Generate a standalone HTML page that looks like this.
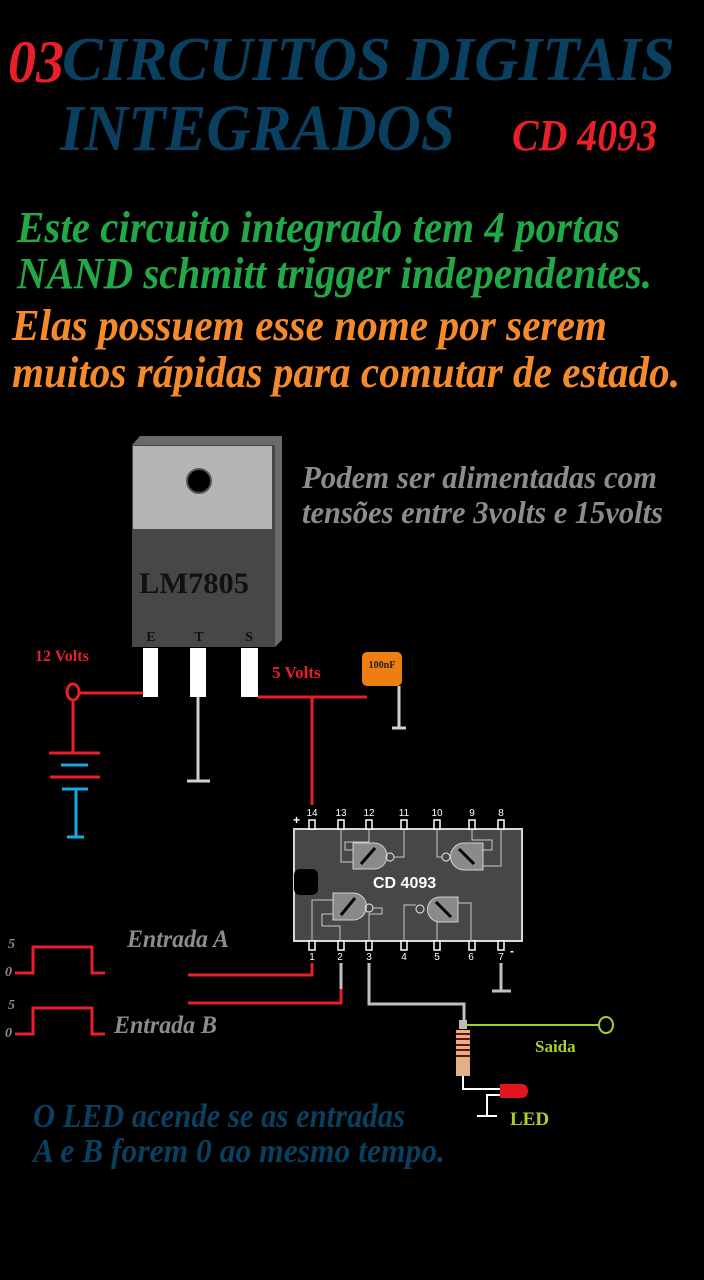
<!DOCTYPE html>
<html><head><meta charset="utf-8"><style>
html,body{margin:0;padding:0;background:#000;}
svg{display:block;}
.t{font-family:"Liberation Serif",serif;font-weight:bold;font-style:italic;}
.s{font-family:"Liberation Sans",sans-serif;}
</style></head><body>
<svg width="704" height="1280" viewBox="0 0 704 1280" xmlns="http://www.w3.org/2000/svg">
<rect width="704" height="1280" fill="#000"/>
<!-- titles -->
<text class="t" x="8" y="82" font-size="60" fill="#e8202a" textLength="56" lengthAdjust="spacingAndGlyphs">03</text>
<text class="t" x="62" y="80" font-size="62" fill="#0a3f5f" textLength="613" lengthAdjust="spacingAndGlyphs">CIRCUITOS DIGITAIS</text>
<text class="t" x="60" y="150" font-size="66" fill="#0a3f5f" textLength="395" lengthAdjust="spacingAndGlyphs">INTEGRADOS</text>
<text class="t" x="512" y="150" font-size="44" fill="#e8202a" textLength="145" lengthAdjust="spacingAndGlyphs">CD 4093</text>
<text class="t" x="17" y="242" font-size="44" fill="#22a846" textLength="603" lengthAdjust="spacingAndGlyphs">Este circuito integrado tem 4 portas</text>
<text class="t" x="17" y="288" font-size="44" fill="#22a846" textLength="635" lengthAdjust="spacingAndGlyphs">NAND schmitt trigger independentes.</text>
<text class="t" x="12" y="340" font-size="44" fill="#f58a2c" textLength="595" lengthAdjust="spacingAndGlyphs">Elas possuem esse nome por serem</text>
<text class="t" x="12" y="387" font-size="44" fill="#f58a2c" textLength="668" lengthAdjust="spacingAndGlyphs">muitos rápidas para comutar de estado.</text>
<text class="t" x="302" y="488" font-size="32" fill="#8c8c8c" textLength="355" lengthAdjust="spacingAndGlyphs">Podem ser alimentadas com</text>
<text class="t" x="302" y="523" font-size="32" fill="#8c8c8c" textLength="361" lengthAdjust="spacingAndGlyphs">tensões entre 3volts e 15volts</text>

<!-- regulator -->
<polygon points="132,445 140,436 282,436 282,640 275,647 275,445" fill="#6a6a6a"/>
<rect x="132" y="445" width="143" height="202" fill="#474747"/>
<rect x="133" y="446" width="139" height="83" fill="#b4b4b4"/>
<circle cx="199" cy="481" r="12" fill="#000" stroke="#555" stroke-width="2"/>
<text x="139" y="593" font-family="Liberation Serif,serif" font-weight="bold" font-size="30" fill="#111" textLength="110" lengthAdjust="spacingAndGlyphs">LM7805</text>
<g font-family="Liberation Serif,serif" font-weight="bold" font-size="14" fill="#111" text-anchor="middle">
<text x="151" y="641">E</text><text x="199" y="641">T</text><text x="249" y="641">S</text></g>
<rect x="143" y="648" width="15" height="49" fill="#fff"/>
<rect x="190" y="648" width="16" height="49" fill="#fff"/>
<rect x="241" y="648" width="17" height="49" fill="#fff"/>
<text x="35" y="661" font-family="Liberation Serif,serif" font-weight="bold" font-size="16" fill="#e8202a">12 Volts</text>
<text x="272" y="678" font-family="Liberation Serif,serif" font-weight="bold" font-size="17" fill="#e8202a">5 Volts</text>
<g stroke="#e8202a" stroke-width="3" fill="none">
<ellipse cx="73" cy="692" rx="6" ry="8"/>
<line x1="80" y1="693" x2="143" y2="693"/>
<line x1="73" y1="700" x2="73" y2="753"/>
<line x1="49" y1="753" x2="100" y2="753"/>
<line x1="50" y1="777" x2="100" y2="777"/>
<line x1="258" y1="697" x2="367" y2="697"/>
<line x1="312" y1="697" x2="312" y2="805"/>
</g>
<g stroke="#19a8e0" stroke-width="3">
<line x1="61" y1="765" x2="88" y2="765"/>
<line x1="62" y1="789" x2="88" y2="789"/>
<line x1="76" y1="789" x2="76" y2="837"/>
<line x1="67" y1="837" x2="84" y2="837"/>
</g>
<g stroke="#d0d0d0" stroke-width="3">
<line x1="198" y1="697" x2="198" y2="781"/>
<line x1="187" y1="781" x2="210" y2="781"/>
<line x1="399" y1="686" x2="399" y2="728"/>
<line x1="392" y1="728" x2="406" y2="728"/>
</g>
<rect x="362" y="652" width="40" height="34" rx="5" fill="#f07d12"/>
<text x="382" y="668" font-family="Liberation Serif,serif" font-weight="bold" font-size="10" fill="#222" text-anchor="middle">100nF</text>

<!-- IC -->
<rect x="294" y="829" width="228" height="112" fill="#474747" stroke="#d8d8d8" stroke-width="2"/>
<rect x="294" y="869" width="24" height="26" rx="6" fill="#000"/>
<text x="373" y="888" class="s" font-weight="bold" font-size="16" fill="#fff">CD 4093</text>
<g fill="#000" stroke="#fff" stroke-width="1.5">
<rect x="309" y="820" width="6" height="9"/><rect x="338" y="820" width="6" height="9"/><rect x="366" y="820" width="6" height="9"/><rect x="401" y="820" width="6" height="9"/><rect x="434" y="820" width="6" height="9"/><rect x="469" y="820" width="6" height="9"/><rect x="498" y="820" width="6" height="9"/>
<rect x="309" y="941" width="6" height="9"/><rect x="338" y="941" width="6" height="9"/><rect x="366" y="941" width="6" height="9"/><rect x="401" y="941" width="6" height="9"/><rect x="434" y="941" width="6" height="9"/><rect x="469" y="941" width="6" height="9"/><rect x="498" y="941" width="6" height="9"/>
</g>
<g class="s" font-size="10" fill="#fff" text-anchor="middle">
<text x="312" y="816">14</text><text x="341" y="816">13</text><text x="369" y="816">12</text><text x="404" y="816">11</text><text x="437" y="816">10</text><text x="472" y="816">9</text><text x="501" y="816">8</text>
<text x="312" y="960">1</text><text x="340" y="960">2</text><text x="369" y="960">3</text><text x="404" y="960">4</text><text x="437" y="960">5</text><text x="471" y="960">6</text><text x="501" y="960">7</text>
</g>
<text x="293" y="824" class="s" font-weight="bold" font-size="12" fill="#fff">+</text>
<text x="510" y="955" class="s" font-weight="bold" font-size="12" fill="#fff">-</text>
<g stroke="#c8c8c8" stroke-width="1" fill="none">
<polyline points="341,829 341,862 353,862"/><polyline points="369,829 369,842 345,842 345,850 353,850"/>
<polyline points="404,829 404,857 394,857"/>
<polyline points="437,829 437,857 442,857"/>
<polyline points="472,829 472,840 492,840 492,850 483,850"/><polyline points="501,829 501,866 483,866"/>
<polyline points="312,941 312,900 333,900"/><polyline points="340,941 340,926 322,926 322,914 333,914"/>
<polyline points="369,941 369,914 382,914 382,908 373,908"/>
<polyline points="404,941 404,905 416,905"/>
<polyline points="437,941 437,922 458,922"/><polyline points="471,941 471,903 458,903"/>
</g>
<g fill="#8a8a8a" stroke="#cfcfcf" stroke-width="1">
<path d="M353,843 H374 A13,13 0 0 1 374,869 H353 Z"/>
<path d="M483,843 H464 A13,13 0 0 0 464,870 H483 Z"/>
<path d="M333,893 H353 A13,13 0 0 1 353,920 H333 Z"/>
<path d="M458,897 H440 A12.5,12.5 0 0 0 440,922 H458 Z"/>
</g>
<g fill="none" stroke="#cfcfcf" stroke-width="1.2">
<circle cx="390" cy="857" r="4"/><circle cx="446" cy="857" r="4"/><circle cx="369" cy="908" r="4"/><circle cx="420" cy="909" r="4"/>
</g>
<g stroke="#000" stroke-width="3">
<line x1="361" y1="864" x2="375" y2="848"/><line x1="459" y1="849" x2="474" y2="864"/>
<line x1="341" y1="915" x2="355" y2="898"/><line x1="436" y1="902" x2="451" y2="917"/>
</g>

<!-- inputs -->
<g stroke="#e8202a" stroke-width="3" fill="none">
<polyline points="15,973 33,973 33,947 92,947 92,973 105,973"/>
<polyline points="15,1034 33,1034 33,1008 92,1008 92,1034 105,1034"/>
<polyline points="188,975 312,975 312,963"/>
<polyline points="188,1003 341,1003 341,988"/>
</g>
<g stroke="#c0c0c0" stroke-width="3" fill="none">
<line x1="341" y1="963" x2="341" y2="989"/>
<polyline points="369,963 369,1004 464,1004 464,1022"/>
<line x1="501" y1="963" x2="501" y2="991"/>
<line x1="492" y1="991" x2="511" y2="991"/>
</g>
<g font-family="Liberation Serif,serif" font-weight="bold" font-style="italic" font-size="14" fill="#8c8c8c">
<text x="8" y="948">5</text><text x="5" y="976">0</text><text x="8" y="1009">5</text><text x="5" y="1037">0</text></g>
<text class="t" x="127" y="947" font-size="25" fill="#8c8c8c" textLength="102" lengthAdjust="spacingAndGlyphs">Entrada A</text>
<text class="t" x="114" y="1033" font-size="25" fill="#8c8c8c" textLength="103" lengthAdjust="spacingAndGlyphs">Entrada B</text>
<!-- output -->
<line x1="467" y1="1025" x2="599" y2="1025" stroke="#a0d030" stroke-width="2"/>
<ellipse cx="606" cy="1025" rx="7" ry="8" fill="none" stroke="#a0d030" stroke-width="2"/>
<rect x="459" y="1020" width="8" height="9" fill="#bbb"/>
<rect x="456" y="1030" width="14" height="46" fill="#e2b088"/>
<g stroke="#6a1010" stroke-width="2"><line x1="456" y1="1034" x2="470" y2="1034"/><line x1="456" y1="1039" x2="470" y2="1039"/><line x1="456" y1="1045" x2="470" y2="1045"/><line x1="456" y1="1050" x2="470" y2="1050"/><line x1="456" y1="1056" x2="470" y2="1056"/></g>
<polyline points="463,1076 463,1089 503,1089" fill="none" stroke="#fff" stroke-width="2"/>
<polyline points="503,1095 487,1095 487,1116" fill="none" stroke="#fff" stroke-width="2"/>
<line x1="477" y1="1116" x2="497" y2="1116" stroke="#fff" stroke-width="2"/>
<path d="M500,1084 H522 A6,7 0 0 1 522,1098 H500 Z" fill="#e0161e"/>
<text x="535" y="1052" font-family="Liberation Serif,serif" font-weight="bold" font-size="17" fill="#a8d030">Saida</text>
<text x="510" y="1125" font-family="Liberation Serif,serif" font-weight="bold" font-size="19" fill="#a8d030">LED</text>
<text class="t" x="33" y="1127" font-size="34" fill="#0a3f5f" textLength="372" lengthAdjust="spacingAndGlyphs">O LED acende se as entradas</text>
<text class="t" x="33" y="1162" font-size="34" fill="#0a3f5f" textLength="412" lengthAdjust="spacingAndGlyphs">A e B forem  0 ao mesmo tempo.</text>
</svg>
</body></html>
